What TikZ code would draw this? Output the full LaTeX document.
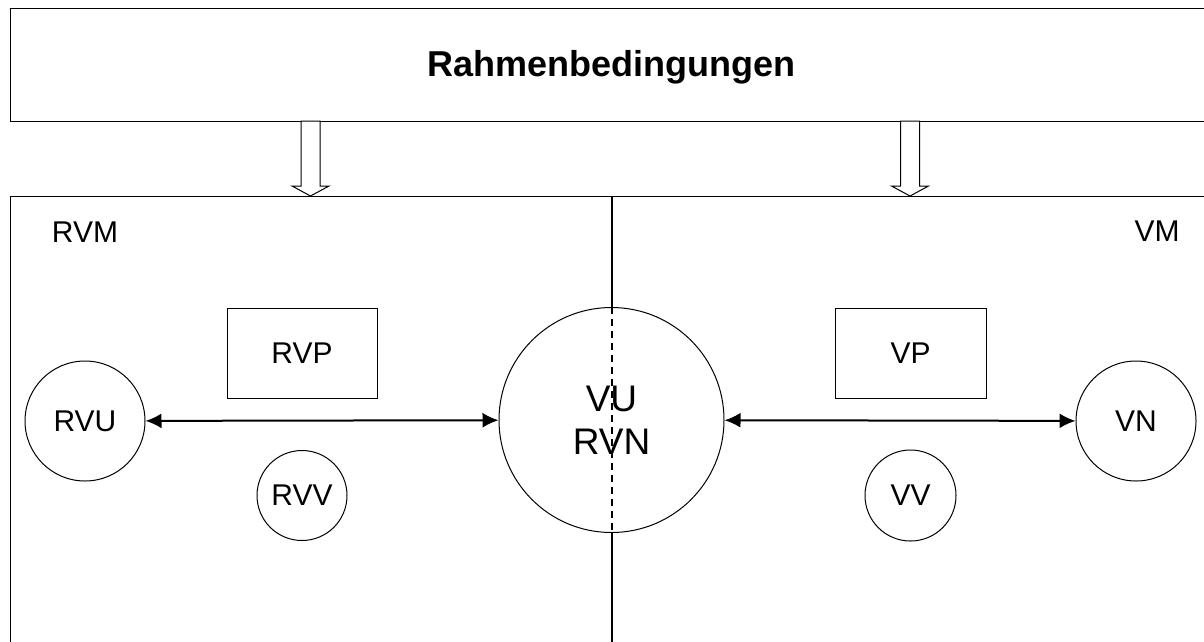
\documentclass[tikz,border=0pt]{standalone}
\usepackage{fontspec}
\setmainfont{Liberation Sans}
\usepackage{tikz}
\usetikzlibrary{arrows.meta, calc, positioning}

\tikzset{
	frame/.style={draw, line width=1pt, inner sep=0pt},
	label/.style={font=\fontsize{30}{36}\selectfont, inner sep=0pt},
	circ/.style={draw, circle, line width=1pt, inner sep=0pt, font=\fontsize{30}{36}\selectfont},
	panel/.style={draw, rectangle, line width=1pt, inner sep=0pt, font=\fontsize{30}{36}\selectfont},
	twoway/.style={{Latex[length=16pt,width=15pt]}-{Latex[length=16pt,width=15pt]}, line width=2pt},
	hollow/.style={draw, line width=1pt, fill=white}
}

\begin{document}
\begin{tikzpicture}[x=1pt, y=-1pt]
			\useasboundingbox (0,0) rectangle (1204,641);
			\clip (0,0) rectangle (1204,641);
			
			\node(rahmen) [frame, minimum width=1203pt, minimum height=113pt, text depth=1.5pt, font=\fontsize{36}{43}\selectfont\bfseries] at (611.5,64.5) {Rahmenbedingungen};
			\node(modell) [frame, minimum width=1203pt, minimum height=500pt] at (611.5,446) {};
			
			\node(rvm) [label] at (85,232) {RVM};
			\node(vm) [label] at (1157,231) {VM};
			
			\node(rvu) [circ, minimum size=120pt] at (85,421) {RVU};
			\node(vu) [circ, minimum size=225pt, align=center, font=\fontsize{37}{43}\selectfont] at (611.5,420) {VU\\RVN};
			\node(vn) [circ, minimum size=120pt] at (1136,421) {VN};
			
			\node(rvp) [panel, minimum width=150pt, minimum height=90pt] at (302,353) {RVP};
			\node(vp) [panel, minimum width=151pt, minimum height=90pt] at (910.5,353) {VP};
			
			\node(rvv) [circ, minimum size=90pt] at (302,495.5) {RVV};
			\node(vv) [circ, minimum size=91pt] at (910.5,495.5) {VV};
			
			% hollow arrows from the frame conditions
			\coordinate (inL) at (310.5,121);
			\coordinate (inR) at (910,121);
			\foreach \c in {inL, inR}
				\draw[hollow] (\c) ++(-9.5,0) -- ++(0,65) -- ++(-9,0) -- ++(18.5,10) -- ++(18.5,-10) -- ++(-9,0) -- ++(0,-65) -- cycle;
			
			% divider
			\draw[line width=2pt] (modell.north) -- (vu.north);
			\draw[line width=2pt, dash pattern=on 7pt off 5pt] (vu.north) -- (vu.south);
			\draw[line width=2pt] (vu.south) -- (vu.south |- modell.south);
			
			\draw[twoway] (rvu) -- (vu);
			\draw[twoway] (vu) -- (vn);
		\end{tikzpicture}
\end{document}
